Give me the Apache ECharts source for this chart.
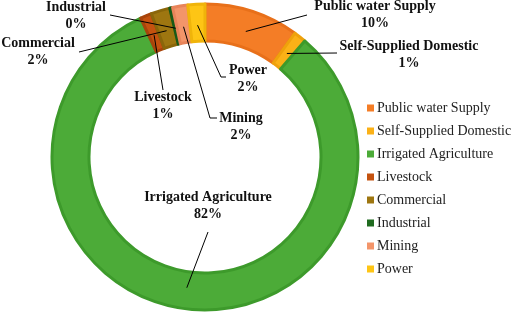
<!DOCTYPE html>
<html>
<head>
<meta charset="utf-8">
<script src="https://cdn.jsdelivr.net/npm/echarts@6/dist/echarts.min.js"></script>
<style>
  html, body { margin: 0; padding: 0; background: #fff; }
  #chart { width: 512px; height: 313px; }
</style>
</head>
<body>
<div id="chart"></div>
<script>
// water use shares (%), clockwise from 12 o'clock
const categories = ['Public water Supply', 'Self-Supplied Domestic', 'Irrigated Agriculture', 'Livestock', 'Commercial', 'Industrial', 'Mining', 'Power']
const shares = [10.0, 1.3, 81.8, 1.2, 2.0, 0.3, 1.6, 1.8]
const colors = ['#F47D26', '#FBB117', '#4CAB38', '#C4520F', '#9E7610', '#1F6B1F', '#F3956A', '#FEC515']
const borders = ['#E8701A', '#EFA10C', '#3D9A2B', '#A8440A', '#8A660A', '#175A17', '#E8845A', '#F0B40A']

// where each callout sits (label centre) and where its leader line ends
const labelPos = [[375, 15], [409, 55], [208, 206], [163, 106], [38, 52], [76, 16], [241, 127], [248, 79]]
const lineEnd = [[307, 15], [337, 53], [208, 232], [163, 90], [79, 52], [110, 15], [217, 118], [226, 77]]
const lineElbow = [null, null, null, null, null, null, [210, 118], [221, 77]]

const CENTER = [205, 157]
const R_IN = 116
const R_OUT = 153
const R_LINE = 132

// mid angle of each slice (degrees clockwise from 12 o'clock)
const total = shares.reduce((a, b) => a + b, 0)
let acc = 0
const midAngles = shares.map(v => {
  const a = (acc + v / 2) / total * 360
  acc += v
  return a
})

// leader lines: from inside the slice to the callout
const leaders = midAngles.map((deg, i) => {
  const t = deg * Math.PI / 180
  const start = [CENTER[0] + R_LINE * Math.sin(t), CENTER[1] - R_LINE * Math.cos(t)]
  const pts = lineElbow[i] ? [start, lineElbow[i], lineEnd[i]] : [start, lineEnd[i]]
  return {
    type: 'polyline',
    z: 100,
    silent: true,
    shape: { points: pts },
    style: { stroke: '#000', lineWidth: 1, fill: null }
  }
})

const chart = echarts.init(document.getElementById('chart'))

const option = {
  animation: false,
  legend: {
    orient: 'vertical',
    left: 362,
    top: 96,
    itemWidth: 7,
    itemHeight: 7,
    itemGap: 9,
    icon: 'rect',
    selectedMode: false,
    itemStyle: { borderWidth: 0 },
    textStyle: {
      fontFamily: 'Liberation Serif',
      fontSize: 14,
      lineHeight: 14,
      color: '#222',
      padding: [0, 0, 0, -2]
    },
    data: categories
  },
  graphic: leaders,
  series: [{
    type: 'pie',
    center: CENTER,
    radius: [R_IN, R_OUT],
    startAngle: 90,
    clockwise: true,
    avoidLabelOverlap: false,
    minAngle: 0,
    data: categories.map((name, i) => ({
      name,
      value: shares[i],
      itemStyle: { color: colors[i], borderColor: borders[i], borderWidth: 3 }
    })),
    label: {
      show: true,
      position: 'outside',
      formatter: (p) => `${p.name}\n${Math.round(p.percent)}%`,
      fontFamily: 'Liberation Serif',
      fontWeight: 'bold',
      fontSize: 14,
      lineHeight: 17,
      color: '#111',
      align: 'center'
    },
    labelLine: { show: false },
    labelLayout: (params) => {
      const i = params.dataIndex
      return {
        x: labelPos[i][0],
        y: labelPos[i][1],
        align: 'center',
        verticalAlign: 'middle'
      }
    }
  }]
}

chart.setOption(option)
</script>
</body>
</html>
